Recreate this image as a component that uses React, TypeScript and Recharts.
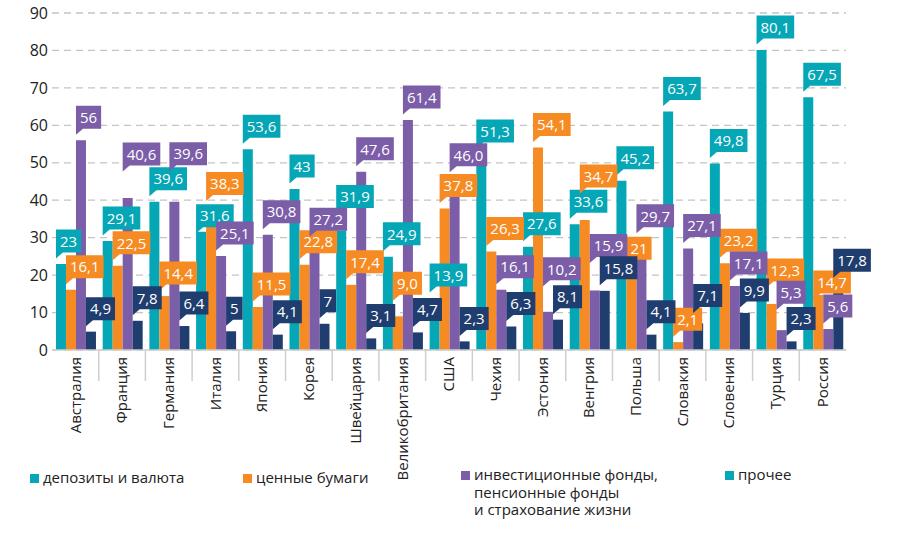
import { BarChart, Bar, XAxis, YAxis, CartesianGrid, LabelList } from "recharts";

const countries = [
    "Австралия", "Франция", "Германия", "Италия", "Япония", "Корея", "Швейцария",
    "Великобритания", "США", "Чехия", "Эстония", "Венгрия", "Польша", "Словакия",
    "Словения", "Турция", "Россия"
];

const deposits = [23, 29.1, 39.6, 31.6, 53.6, 43, 31.9, 24.9, 13.9, 51.3, 27.6, 33.6, 45.2, 63.7, 49.8, 80.1, 67.5];
const securities = [16.1, 22.5, 14.4, 38.3, 11.5, 22.8, 17.4, 9.0, 37.8, 26.3, 54.1, 34.7, 21, 2.1, 23.2, 12.3, 14.7];
const funds = [56, 40.6, 39.6, 25.1, 30.8, 27.2, 47.6, 61.4, 46.0, 16.1, 10.2, 15.9, 29.7, 27.1, 17.1, 5.3, 5.6];
const other = [4.9, 7.8, 6.4, 5, 4.1, 7, 3.1, 4.7, 2.3, 6.3, 8.1, 15.8, 4.1, 7.1, 9.9, 2.3, 17.8];

// labels as printed (some values keep ",0", some are whole numbers)
const depositsText = ["23", "29,1", "39,6", "31,6", "53,6", "43", "31,9", "24,9", "13,9", "51,3", "27,6", "33,6", "45,2", "63,7", "49,8", "80,1", "67,5"];
const securitiesText = ["16,1", "22,5", "14,4", "38,3", "11,5", "22,8", "17,4", "9,0", "37,8", "26,3", "54,1", "34,7", "21", "2,1", "23,2", "12,3", "14,7"];
const fundsText = ["56", "40,6", "39,6", "25,1", "30,8", "27,2", "47,6", "61,4", "46,0", "16,1", "10,2", "15,9", "29,7", "27,1", "17,1", "5,3", "5,6"];
const otherText = ["4,9", "7,8", "6,4", "5", "4,1", "7", "3,1", "4,7", "2,3", "6,3", "8,1", "15,8", "4,1", "7,1", "9,9", "2,3", "17,8"];

// extra lift (px) of some callouts, so that they don't hide each other (as in the original)
const depositsLift = [0, 0, 0, -7, 0, 0, 11, 0, 0, 4, 0, 0, 0, 0, 0, 0, 0];
const securitiesLift = [0, 0, 0, 0, 0, 0, 0, 10, 0, 0, 0, 21, 0, 0, 0, 11, -10];
const fundsLift = [0, 21, 25, 0, 0, 6, 0, 0, 0, 0, 20, 22, 0, 0, 0, 15, 0];
const otherLift = [0, 0, 0, 0, 0, 0, 0, 0, 0, 0, 0, 0, 0, 5, 0, 0, 0];

const yTicks = [0, 10, 20, 30, 40, 50, 60, 70, 80, 90];

const TEAL = "#05A6B5";
const ORANGE = "#F58B22";
const PURPLE = "#7B5DA8";
const NAVY = "#1F3D6E";
const FONT = "'Open Sans', 'Noto Sans', sans-serif";

const W = 900;
const H = 547;
const MARGIN = { top: 13, right: 54, left: 0, bottom: 0 };
const Y_W = 52;
const X_H = 197;
const STEP = (W - MARGIN.right - MARGIN.left - Y_W) / countries.length;

const data = countries.map((name, i) => ({
    name,
    deposits: deposits[i],
    securities: securities[i],
    funds: funds[i],
    other: other[i]
}));

const series = [
    { key: "deposits", color: TEAL, texts: depositsText, lift: depositsLift },
    { key: "securities", color: ORANGE, texts: securitiesText, lift: securitiesLift },
    { key: "funds", color: PURPLE, texts: fundsText, lift: fundsLift },
    { key: "other", color: NAVY, texts: otherText, lift: otherLift }
];

let ctx: CanvasRenderingContext2D | null = null;
function textWidth(s: string) {
    if (!ctx) ctx = document.createElement("canvas").getContext("2d");
    if (!ctx) return s.length * 8.5;
    ctx.font = `15px ${FONT}`;
    return ctx.measureText(s).width;
}

function flagLabel(texts: string[], lift: number[], color: string) {
    return (props: any) => {
        const { x, y, index } = props;
        const s = texts[index];
        const bw = textWidth(s) + 8;
        const bottom = y - 11.5 - lift[index];
        const top = bottom - 23;
        const d = `M${x},${top} H${x + bw} V${bottom} H${x + 7} L${x},${bottom + 6} Z`;
        return (
            <g>
                <path d={d} fill={color} />
                <text
                    x={x + bw / 2}
                    y={top + 12}
                    dy="0.35em"
                    textAnchor="middle"
                    fill="#fff"
                    fontSize={15}
                    fontFamily={FONT}
                >
                    {s}
                </text>
            </g>
        );
    };
}

function CountryTick(props: any) {
    const { x, y, payload } = props;
    const last = payload.index === countries.length - 1;
    return (
        <g>
            {!last && (
                <line
                    x1={x + STEP / 2}
                    x2={x + STEP / 2}
                    y1={y}
                    y2={y + 31}
                    stroke="#cfcfcf"
                    strokeWidth={1.5}
                />
            )}
            <text
                transform={`translate(${x}, ${y + 7}) rotate(-90)`}
                dy="0.35em"
                textAnchor="end"
                fill="#222"
                fontSize={15}
                fontFamily={FONT}
            >
                {payload.value}
            </text>
        </g>
    );
}

const legendItems = [
    { color: TEAL, lines: ["депозиты и валюта"], left: 30, top: 469 },
    { color: ORANGE, lines: ["ценные бумаги"], left: 243, top: 469 },
    { color: PURPLE, lines: ["инвестиционные фонды,", "пенсионные фонды", "и страхование жизни"], left: 461, top: 466 },
    { color: TEAL, lines: ["прочее"], left: 725, top: 466 }
];

export default function App() {
    return (
        <div style={{ position: "absolute", left: 0, top: 0, width: W, height: H, background: "#fff" }}>
            <BarChart
                width={W}
                height={H}
                data={data}
                margin={MARGIN}
                barCategoryGap="8.5%"
                barGap={0}
            >
                <CartesianGrid
                    vertical={false}
                    stroke="#c4c4c4"
                    strokeDasharray="7 5"
                    strokeWidth={1.3}
                />
                <XAxis
                    dataKey="name"
                    interval={0}
                    height={X_H}
                    tickLine={false}
                    tickSize={0}
                    tickMargin={0}
                    axisLine={{ stroke: "#cfcfcf", strokeWidth: 1.5 }}
                    tick={<CountryTick />}
                />
                {/* second, hidden axis: same layout, used only to draw callouts above every bar */}
                <XAxis xAxisId="labels" dataKey="name" hide />
                <YAxis
                    width={Y_W}
                    domain={[0, 90]}
                    ticks={yTicks}
                    interval={0}
                    axisLine={false}
                    tickLine={false}
                    tickSize={4}
                    tickMargin={0}
                    tick={{ fill: "#222", fontSize: 16, fontFamily: FONT }}
                />
                {series.map((s) => (
                    <Bar key={s.key} dataKey={s.key} fill={s.color} isAnimationActive={false} />
                ))}
                {series.map((s) => (
                    <Bar
                        key={s.key + "-lbl"}
                        xAxisId="labels"
                        dataKey={s.key}
                        fill="transparent"
                        isAnimationActive={false}
                    >
                        <LabelList dataKey={s.key} content={flagLabel(s.texts, s.lift, s.color)} />
                    </Bar>
                ))}
            </BarChart>
            {legendItems.map((item) => (
                <div
                    key={item.lines[0]}
                    style={{
                        position: "absolute",
                        left: item.left,
                        top: item.top,
                        display: "flex",
                        alignItems: "flex-start",
                        fontFamily: FONT,
                        fontSize: 15,
                        lineHeight: "17.5px",
                        color: "#222"
                    }}
                >
                    <span
                        style={{
                            width: 9,
                            height: 9,
                            background: item.color,
                            marginTop: 5,
                            marginRight: 4,
                            flexShrink: 0
                        }}
                    />
                    <span>
                        {item.lines.map((l) => (
                            <div key={l}>{l}</div>
                        ))}
                    </span>
                </div>
            ))}
        </div>
    );
}
